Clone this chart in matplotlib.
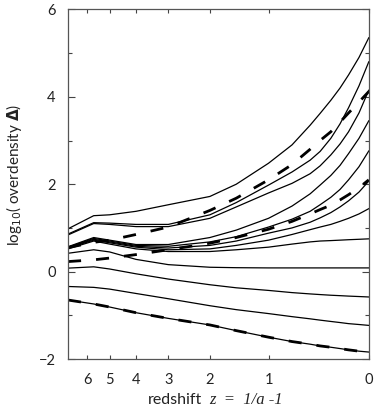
import numpy as np
import matplotlib
matplotlib.use('Agg')
import matplotlib.pyplot as plt

# redshift sample points (same for every curve)
z = [7, 5.7, 5, 4, 3, 2, 1.5, 1, 0.7, 0.5, 0.4, 0.3, 0.22, 0.15, 0.07, 0]

# solid curves, log10 overdensity
sol_a = [0.98, 1.28, 1.30, 1.38, 1.53, 1.72, 2.00, 2.48, 2.90, 3.35, 3.62, 3.92, 4.20, 4.50, 4.90, 5.35]
sol_b = [0.86, 1.12, 1.11, 1.08, 1.08, 1.30, 1.58, 1.98, 2.28, 2.55, 2.75, 3.05, 3.38, 3.75, 4.25, 4.80]
sol_c = [0.84, 1.10, 1.08, 1.03, 1.03, 1.22, 1.48, 1.80, 2.02, 2.24, 2.42, 2.67, 2.92, 3.20, 3.63, 4.15]
sol_h1 = [0.57, 0.78, 0.72, 0.62, 0.62, 0.78, 0.95, 1.22, 1.50, 1.78, 1.98, 2.20, 2.43, 2.70, 3.05, 3.45]
sol_h2 = [0.56, 0.76, 0.70, 0.60, 0.58, 0.68, 0.80, 1.02, 1.20, 1.38, 1.53, 1.70, 1.88, 2.10, 2.40, 2.76]
sol_h3 = [0.55, 0.74, 0.68, 0.58, 0.54, 0.60, 0.70, 0.88, 1.00, 1.13, 1.23, 1.35, 1.48, 1.62, 1.82, 2.07]
sol_h4 = [0.54, 0.72, 0.66, 0.56, 0.50, 0.52, 0.60, 0.72, 0.85, 0.96, 1.02, 1.08, 1.15, 1.22, 1.32, 1.44]
sol_h5 = [0.52, 0.70, 0.63, 0.52, 0.46, 0.46, 0.50, 0.56, 0.63, 0.68, 0.70, 0.71, 0.72, 0.73, 0.74, 0.75]
sol_g = [0.42, 0.50, 0.45, 0.28, 0.16, 0.10, 0.09, 0.085, 0.085, 0.085, 0.085, 0.085, 0.085, 0.085, 0.085, 0.085]
sol_f = [0.08, 0.11, 0.06, -0.05, -0.17, -0.30, -0.37, -0.43, -0.48, -0.51, -0.525, -0.54, -0.55, -0.56, -0.57, -0.58]
sol_e = [-0.34, -0.36, -0.40, -0.50, -0.62, -0.78, -0.87, -0.96, -1.03, -1.08, -1.11, -1.14, -1.165, -1.19, -1.21, -1.23]
solids = [sol_a, sol_b, sol_c, sol_h1, sol_h2, sol_h3, sol_h4, sol_h5, sol_g, sol_f, sol_e]

# dashed curves
dash_1 = [0.55, 0.67, 0.72, 0.85, 1.02, 1.40, 1.68, 2.10, 2.45, 2.80, 3.00, 3.20, 3.42, 3.63, 3.88, 4.12]
dash_2 = [0.23, 0.27, 0.31, 0.39, 0.50, 0.65, 0.78, 0.97, 1.15, 1.32, 1.42, 1.52, 1.64, 1.76, 1.92, 2.10]
dash_3 = [-0.65, -0.74, -0.81, -0.94, -1.07, -1.22, -1.35, -1.50, -1.60, -1.66, -1.70, -1.73, -1.76, -1.79, -1.82, -1.84]
dashed = [dash_1, dash_2, dash_3]

z_ticks = [6, 5, 4, 3, 2, 1, 0]

plt.rcParams['font.family'] = ['Lato', 'DejaVu Sans']

fig = plt.figure(figsize=(3.74, 4.08), dpi=100)
ax = fig.add_axes([0.182, 0.12, 0.804, 0.857])

x = np.log10(1 + np.array(z))
for y in solids:
    ax.plot(x, y, color='k', lw=0.9)
# bottom dashed curve has a solid line under it
ax.plot(x, dash_3, color='k', lw=0.9)
for y in dashed:
    ax.plot(x, y, color='k', lw=2.0, dashes=(4.7, 5.4))

ax.set_xlim(np.log10(8), 0)
ax.set_ylim(-2, 6)
ax.set_xticks(np.log10(1 + np.array(z_ticks)))
ax.set_xticklabels([str(t) for t in z_ticks])
ax.set_yticks([-2, 0, 2, 4, 6])
ax.set_yticklabels(['\u22122', '0', '2', '4', '6'])
ax.set_yticks([-1, 1, 3, 5], minor=True)

ax.tick_params(axis='both', which='both', direction='in', top=True, right=True,
               colors='#444', labelcolor='#222', labelsize=10.5, width=0.8)
ax.tick_params(axis='y', which='major', length=5, pad=9)
ax.tick_params(axis='y', which='minor', length=3)
ax.tick_params(axis='x', which='major', length=2.6, pad=10)
for s in ax.spines.values():
    s.set_color('#555')
    s.set_linewidth(0.9)

ax.set_ylabel(r'log$_{10}$( overdensity $\mathbf{\Delta}$)', fontsize=11, color='#222')
ax.yaxis.set_label_coords(-0.145, 0.526)

fig.text(0.395, 0.009, 'redshift', fontsize=11.5, color='#222', ha='left', va='baseline')
fig.text(0.56, 0.009, 'z  =  1/a -1', fontsize=12, color='#222', ha='left', va='baseline',
         family='Liberation Serif', style='italic')

fig.savefig('out.png', dpi=100)
